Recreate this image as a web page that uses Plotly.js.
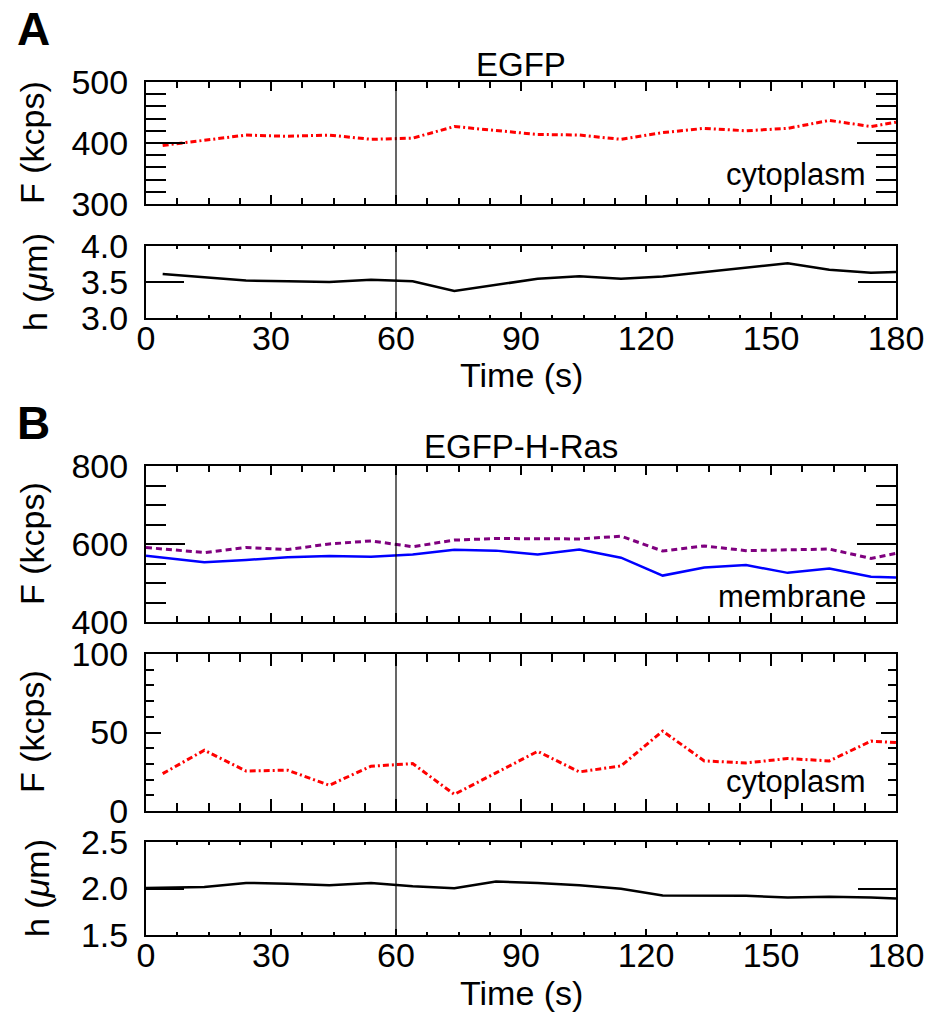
<!DOCTYPE html>
<html>
<head>
<meta charset="utf-8">
<script src="https://cdn.plot.ly/plotly-3.0.1.min.js"></script>
<style>html,body{margin:0;padding:0;background:#fff;}#chart{width:932px;height:1020px;}</style>
</head>
<body>
<div id="chart"></div>
<script>
// ---- Data ----
// Panel A: EGFP
var timeA = [4, 14, 24, 34, 44, 54, 64, 74, 84, 94, 104, 114, 124, 134, 144, 154, 164, 174, 180];
var fluorA = [396, 405, 413, 411, 413, 406, 408, 427, 421, 414, 413, 406, 417, 424, 420, 424, 437, 427, 434];
var heightA = [3.61, 3.565, 3.52, 3.51, 3.50, 3.53, 3.51, 3.375, 3.46, 3.545, 3.58, 3.545, 3.578, 3.64, 3.694, 3.76, 3.67, 3.63, 3.64];

// Panel B: EGFP-H-Ras
var timeB = [0, 14, 24, 34, 44, 54, 64, 74, 84, 94, 104, 114, 124, 134, 144, 154, 164, 174, 180];
var membDashed = [591, 578, 591, 586, 600, 608, 593, 610, 614, 613, 613, 620, 582, 595, 583, 585, 587, 563, 576];
var membSolid = [570, 553, 559, 566, 569, 567, 573, 585, 583, 573, 586, 565, 519, 540, 546, 526, 537, 516, 514];
var timeBc = [4, 14, 24, 34, 44, 54, 64, 74, 84, 94, 104, 114, 124, 134, 144, 154, 164, 174, 180];
var cytoB = [23.8, 38.7, 25.5, 26, 16.4, 28.5, 30.2, 10.6, 24.3, 38, 24.9, 28.7, 50.9, 31.9, 30.6, 33.4, 31.9, 44.5, 43.6];
var heightB = [2.005, 2.016, 2.06, 2.052, 2.034, 2.06, 2.023, 2.002, 2.074, 2.06, 2.034, 1.998, 1.926, 1.926, 1.922, 1.904, 1.91, 1.904, 1.893];

var xTickVals = [0, 30, 60, 90, 120, 150, 180];
var markerTime = 60;

// ---- Geometry helpers ----
var H = 1020;
function dom(top, bottom) { return [1 - bottom / H, 1 - top / H]; }
var FONT = '"Liberation Sans", Arial, Helvetica, sans-serif';
var FS_TICK = 34;
var FS_TITLE = 34;
var FS_LABEL = 31;

function xax(anchor, showLabels, majLen, minLen) {
  return {
    anchor: anchor, domain: [0, 1], range: [0, 180],
    showline: true, linewidth: 2, linecolor: 'black', mirror: 'allticks',
    ticks: 'inside', ticklen: majLen, tickwidth: 2, tickcolor: 'black',
    tickvals: xTickVals, showticklabels: showLabels,
    ticklabelstandoff: -11,
    tickfont: {family: FONT, size: FS_TICK, color: 'black'},
    minor: {dtick: 7.5, tick0: 0, ticks: 'inside', ticklen: minLen, tickwidth: 2, tickcolor: 'black', showgrid: false},
    showgrid: false, zeroline: false, fixedrange: true
  };
}
function yax(anchor, d, range, dtick, majLen, minDtick, minLen, fmt) {
  var a = {
    anchor: anchor, domain: d, range: range,
    showline: true, linewidth: 2, linecolor: 'black', mirror: 'allticks',
    ticks: 'inside', ticklen: majLen, tickwidth: 2, tickcolor: 'black',
    dtick: dtick, tick0: range[0], tickformat: fmt || '',
    ticklabelstandoff: 9,
    tickfont: {family: FONT, size: FS_TICK, color: 'black'},
    showgrid: false, zeroline: false, fixedrange: true
  };
  if (minDtick) {
    a.minor = {dtick: minDtick, tick0: range[0], ticks: 'inside', ticklen: minLen, tickwidth: 2, tickcolor: 'black', showgrid: false};
  }
  return a;
}

var traces = [
  {x: timeA, y: fluorA, xaxis: 'x', yaxis: 'y', mode: 'lines',
   line: {color: '#ff0000', width: 3, dash: '6px,3px,2px,3px'}},
  {x: timeA, y: heightA, xaxis: 'x2', yaxis: 'y2', mode: 'lines',
   line: {color: 'black', width: 2.5}},
  {x: timeB, y: membDashed, xaxis: 'x3', yaxis: 'y3', mode: 'lines',
   line: {color: '#7f007f', width: 3, dash: '6px,4px'}},
  {x: timeB, y: membSolid, xaxis: 'x3', yaxis: 'y3', mode: 'lines',
   line: {color: '#0000ff', width: 2.5}},
  {x: timeBc, y: cytoB, xaxis: 'x4', yaxis: 'y4', mode: 'lines',
   line: {color: '#ff0000', width: 3, dash: '6px,3px,2px,3px'}},
  {x: timeB, y: heightB, xaxis: 'x5', yaxis: 'y5', mode: 'lines',
   line: {color: 'black', width: 2.5}}
];

var shapes = [];
['x', 'x2', 'x3', 'x4', 'x5'].forEach(function (xa, i) {
  var ya = i === 0 ? 'y' : 'y' + (i + 1);
  shapes.push({type: 'line', xref: xa, yref: ya + ' domain', x0: markerTime, x1: markerTime, y0: 0, y1: 1,
    line: {color: 'black', width: 1.2}});
});

function yTitle(text, xpx, ypx) {
  return {text: text, xref: 'paper', yref: 'paper', x: (xpx - 146) / 750, y: 1 - ypx / H,
    xanchor: 'center', yanchor: 'middle', textangle: -90, showarrow: false,
    font: {family: FONT, size: FS_TITLE, color: 'black'}};
}
function label(text, xpx, ypx, size, anchor, bold) {
  return {text: bold ? '<b>' + text + '</b>' : text, xref: 'paper', yref: 'paper',
    x: (xpx - 146) / 750, y: 1 - ypx / H,
    xanchor: anchor || 'center', yanchor: 'middle', showarrow: false,
    font: {family: FONT, size: size, color: 'black'}};
}

var annotations = [
  label('A', 33, 29, 46, 'center', true),
  label('B', 33, 423, 46, 'center', true),
  label('EGFP', 521, 64, FS_TITLE - 1),
  label('EGFP-H-Ras', 521, 446, FS_TITLE - 1),
  yTitle('F (kcps)', 32, 143),
  yTitle('h (<i>μ</i>m)', 35, 282),
  yTitle('F (kcps)', 32, 544),
  yTitle('F (kcps)', 32, 732),
  yTitle('h (<i>μ</i>m)', 37, 888),
  label('Time (s)', 521, 375, FS_TITLE),
  label('Time (s)', 521, 993, FS_TITLE),
  label('cytoplasm', 868, 174, FS_LABEL, 'right'),
  label('membrane', 868, 596, FS_LABEL, 'right'),
  label('cytoplasm', 868, 781, FS_LABEL, 'right')
];

var layout = {
  width: 932, height: 1020,
  margin: {l: 146, r: 36, t: 0, b: 0, pad: 0},
  paper_bgcolor: 'white', plot_bgcolor: 'white',
  showlegend: false,
  font: {family: FONT, size: FS_TICK, color: 'black'},
  xaxis: xax('y', false, 9, 6),
  yaxis: yax('x', dom(82, 204), [300, 500], 100, 39, 20, 20),
  xaxis2: xax('y2', true, 6, 3),
  yaxis2: yax('x2', dom(246, 318), [3.0, 4.0], 0.5, 38, null, 0, '.1f'),
  xaxis3: xax('y3', false, 9, 6),
  yaxis3: yax('x3', dom(466, 622), [400, 800], 200, 39, 50, 20),
  xaxis4: xax('y4', false, 12, 8),
  yaxis4: yax('x4', dom(654, 811), [0, 100], 50, 15, 10, 8),
  xaxis5: xax('y5', true, 6, 3),
  yaxis5: yax('x5', dom(842, 935), [1.5, 2.5], 0.5, 38, null, 0, '.1f'),
  shapes: shapes,
  annotations: annotations
};

Plotly.newPlot('chart', traces, layout, {staticPlot: true, displayModeBar: false});
</script>
</body>
</html>
